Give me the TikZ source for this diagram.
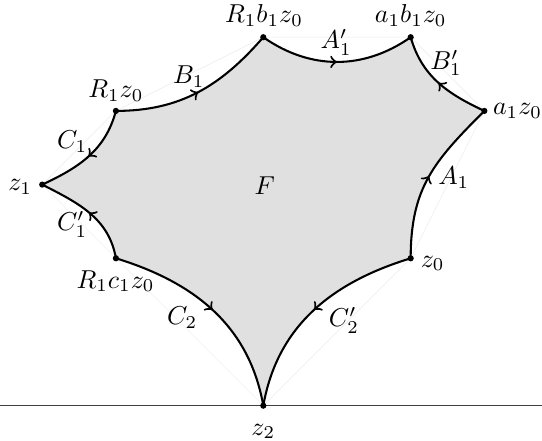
\documentclass[tikz,border=0pt]{standalone}
\usetikzlibrary{decorations.markings}
\begin{document}
\begin{tikzpicture}[
  side/.style={thick, postaction={decorate},
    decoration={markings, mark=at position 0.5 with {\arrow{>}}}},
  chord/.style={black!8, line width=0.2pt},
  vdot/.style={circle, fill=black, inner sep=0pt, minimum size=2.4pt},
  lab/.style={inner sep=1pt}
]
\useasboundingbox (-3.573,-0.479) rectangle (3.782,5.505);
% vertices
\coordinate (z2) at (0,0);
\coordinate (z0) at (2,2);
\coordinate (a)  at (3,4);
\coordinate (ab) at (2,5);
\coordinate (Rb) at (0,5);
\coordinate (R)  at (-2,4);
\coordinate (z1) at (-3,3);
\coordinate (Rc) at (-2,2);
\coordinate (left) at (-3.573,0);
\coordinate (right) at (3.782,0);
% real axis
\draw[black!75, line width=0.5pt] (left) -- (right);
% fill
\fill[black!12] (z2) to[out=80,in=197] (z0) to[out=90,in=225,looseness=1.1] (a)
  to[out=155,in=-74] (ab) to[out=215,in=-35] (Rb) to[out=229,in=0] (R)
  to[out=255,in=25] (z1) to[out=-27,in=100] (Rc) to[out=-17,in=100] (z2);
% faint chords
\draw[chord] (z2) -- (z0) -- (a) -- (ab) -- (Rb) -- (R) -- (z1) -- (Rc) -- cycle;
% sides
\draw[side] (R) to[out=255,in=25] (z1);
\draw[side] (Rc) to[out=100,in=-27] (z1);
\draw[side] (R) to[out=0,in=229] (Rb);
\draw[side] (Rb) to[out=-35,in=215] (ab);
\draw[side] (a) to[out=155,in=-74] (ab);
\draw[side] (z0) to[out=90,in=225,looseness=1.1] (a);
\draw[side] (z0) to[out=197,in=80] (z2);
\draw[side] (Rc) to[out=-17,in=100] (z2);
% dots
\foreach \p in {z2,z0,a,ab,Rb,R,z1,Rc} \node[vdot] (d\p) at (\p) {};
% labels
\node[lab] (lRb) at (0.01,5.30) {$R_1b_1z_0$};
\node[lab] (lab) at (2.00,5.29) {$a_1b_1z_0$};
\node[lab] (la)  at (3.45,4.00) {$a_1z_0$};
\node[lab] (lz0) at (2.30,1.93) {$z_0$};
\node[lab] (lz2) at (0,-0.35) {$z_2$};
\node[lab] (lRc) at (-2.005,1.69) {$R_1c_1z_0$};
\node[lab] (lz1) at (-3.30,2.97) {$z_1$};
\node[lab] (lR)  at (-2.0,4.28) {$R_1z_0$};
\node[lab] (lB1) at (-1.01,4.47) {$B_1$};
\node[lab] (lC1) at (-2.595,3.58) {$C_1$};
\node[lab] (lC1p) at (-2.595,2.46) {$C_1'$};
\node[lab] (lC2) at (-1.10,1.20) {$C_2$};
\node[lab] (lC2p) at (1.095,1.16) {$C_2'$};
\node[lab] (lA1) at (2.585,3.10) {$A_1$};
\node[lab] (lB1p) at (2.48,4.65) {$B_1'$};
\node[lab] (lA1p) at (0.99,4.93) {$A_1'$};
\node[lab] (lF) at (0.02,2.98) {$F$};
\end{tikzpicture}
\end{document}
